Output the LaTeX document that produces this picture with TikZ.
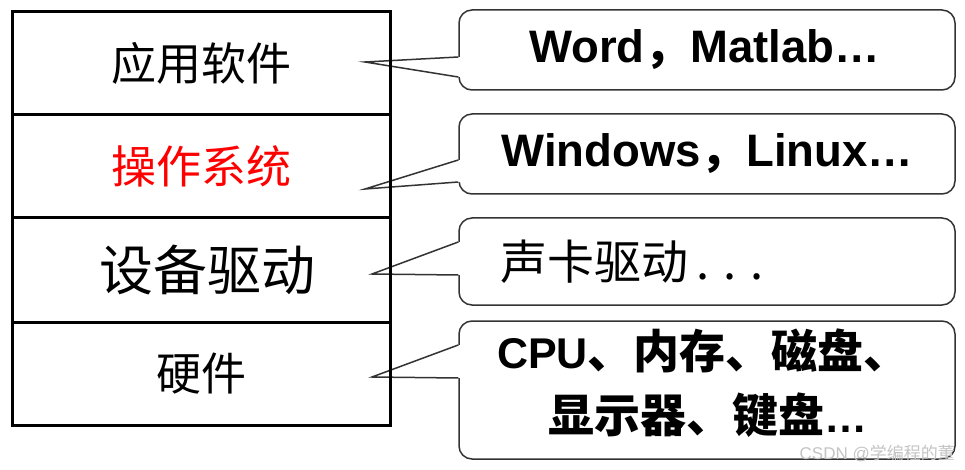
\documentclass[tikz,border=0pt]{standalone}
\usepackage{fontspec}
\setmainfont{Liberation Sans}
\newfontfamily\cjk{Noto Sans CJK SC}
\usetikzlibrary{calc}
\definecolor{bubbleline}{HTML}{333333}
\definecolor{wmark}{HTML}{C4C4C4}
\begin{document}
\begin{tikzpicture}[x=1pt,y=-1pt,
  layer/.style={draw=black,line width=3pt,minimum width=378pt,inner sep=0pt,
    font=\cjk\fontsize{45}{54}\selectfont},
  bubble/.style={draw=bubbleline,line width=1.5pt,rounded corners=13pt,fill=white,
    minimum width=496pt,inner sep=0pt},
  tail/.style={draw=bubbleline,line width=1.5pt,line join=miter},
  tailfill/.style={fill=white},
  btext/.style={font=\bfseries\fontsize{45.5}{52}\selectfont,inner sep=0pt},
  ctext/.style={font=\cjk\bfseries\fontsize{46}{52}\selectfont,inner sep=0pt,anchor=base west},
]
\useasboundingbox (0,0) rectangle (965,470);

% callout bubbles
\node[bubble,minimum height=80pt] (c1) at (707,50) {};
\node[bubble,minimum height=80pt] (c2) at (707,154) {};
\node[bubble,minimum height=87pt] (c3) at (707,261.5) {};
\node[bubble,minimum height=138pt] (c4) at (707,390) {};

% tail points
\coordinate (u1) at (c1.west |- 0,57);  \coordinate (l1) at (c1.west |- 0,77);  \coordinate (t1) at (365,62);
\coordinate (u2) at (c2.west |- 0,160); \coordinate (l2) at (c2.west |- 0,182); \coordinate (t2) at (365,189);
\coordinate (u3) at (c3.west |- 0,242); \coordinate (l3) at (c3.west |- 0,275); \coordinate (t3) at (372,274);
\coordinate (u4) at (c4.west |- 0,345); \coordinate (l4) at (c4.west |- 0,378); \coordinate (t4) at (372,377);

\foreach \i in {1,2,3,4}{
  \fill[tailfill] ($(u\i)+(1.6,0)$) -- (t\i) -- ($(l\i)+(1.6,0)$) -- cycle;
  \draw[tail] (u\i) -- (t\i) -- (l\i);
}

% layer stack
\node[layer,minimum height=103pt] (a1) at (201,63.5) {应用软件};
\node[layer,minimum height=103pt,text=red] (a2) at (201,166.5) {操作系统};
\node[layer,minimum height=104pt,font=\cjk\fontsize{54}{60}\selectfont] (a3) at (201,270) {\hspace*{12pt}设备驱动};
\node[layer,minimum height=103pt] (a4) at (201,373.5) {硬件};

% bubble texts
\node[btext,anchor=base] (w1) at (704.5,63) {Word{\cjk\bfseries ，}Matlab…};
\node[btext,anchor=base] (w2) at (707.5,167) {Windows{\cjk\bfseries ，}Linux…};
\node[font=\cjk\fontsize{47}{52}\selectfont,inner sep=0pt,anchor=base west] (w3) at (500,279) {声卡驱动\kern8pt. . .};
\node[ctext] (w4a) at (497,368) {{\normalfont\bfseries\fontsize{43}{52}\selectfont CPU}、内存、磁盘、};
\node[ctext] (w4b) at (548,432) {显示器、键盘{\normalfont\bfseries\fontsize{43}{52}\selectfont …}};

% watermark
\node[text=wmark,font=\fontsize{17}{20}\selectfont,inner sep=0pt,anchor=base east] (wm) at (955,459) {CSDN @{\cjk 学编程的董}};
\end{tikzpicture}
\end{document}
